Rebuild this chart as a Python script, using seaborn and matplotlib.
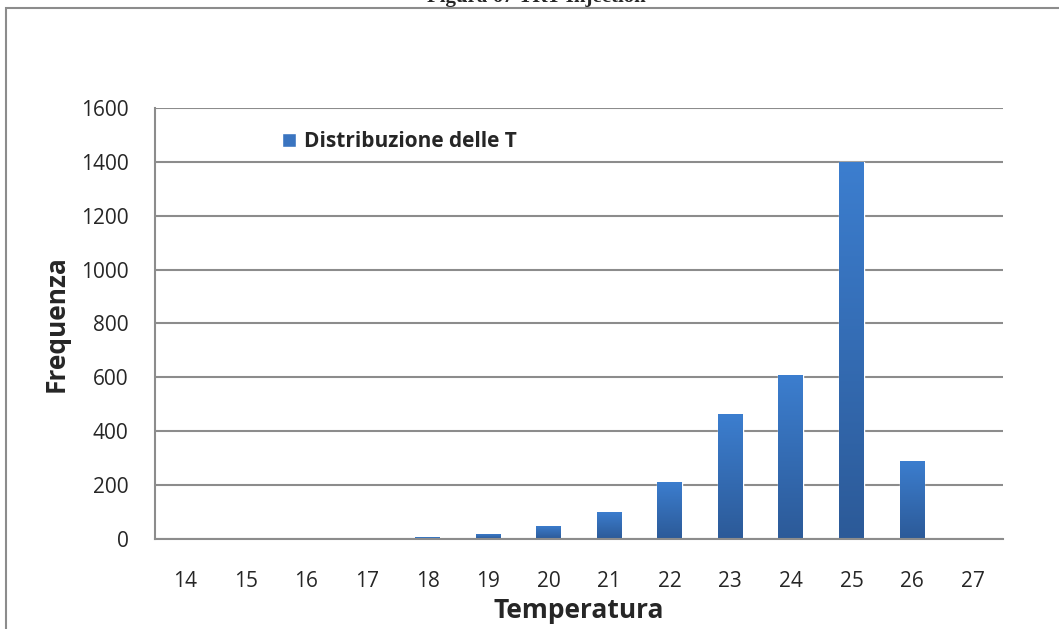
import matplotlib
matplotlib.use("Agg")
import matplotlib.pyplot as plt
import numpy as np
import pandas as pd
import seaborn as sns
from matplotlib.patches import Rectangle

temperature = [14, 15, 16, 17, 18, 19, 20, 21, 22, 23, 24, 25, 26, 27]
frequency = [0, 0, 1, 1, 6, 19, 49, 101, 212, 464, 609, 1400, 291, 0]
y_ticks = [0, 200, 400, 600, 800, 1000, 1200, 1400, 1600]
legend_label = "Distribuzione delle T"

df = pd.DataFrame({"Temperatura": [str(t) for t in temperature],
                   "Frequenza": frequency})

sns.set_style("white")
plt.rcParams["font.family"] = ["Open Sans", "DejaVu Sans"]

fig = plt.figure(figsize=(10.59, 6.29), dpi=100)
ax = fig.add_axes([0.1464, 0.1431, 0.8006, 0.6852])

grey = "#8c8c8c"
ax.set_axisbelow(True)
sns.barplot(data=df, x="Temperatura", y="Frequenza", color="#3a74c0",
            width=0.41, ax=ax, label=legend_label, saturation=1)

# gradient fill on the bars
grad = np.linspace(0, 1, 256).reshape(-1, 1)
cmap = matplotlib.colors.LinearSegmentedColormap.from_list(
    "bar", ["#2c5a98", "#3c7ecf"])
for p in ax.patches:
    h = p.get_height()
    if h <= 0:
        continue
    x0 = p.get_x()
    w = p.get_width()
    img = ax.imshow(grad, extent=[x0, x0 + w, 0, h], origin="lower",
                    cmap=cmap, aspect="auto", zorder=p.get_zorder() + 0.1)
    img.set_clip_path(p)

ax.set_xlim(-0.5, len(temperature) - 0.5)
ax.set_ylim(0, 1600)
ax.set_yticks(y_ticks)
ax.yaxis.grid(True, color=grey, linewidth=1.5)

# category boundary ticks on x
ax.set_xticks(np.arange(-0.5, len(temperature), 1.0))
ax.set_xticklabels([])
ax.set_xticks(np.arange(len(temperature)), minor=True)
ax.set_xticklabels([str(t) for t in temperature], minor=True)
ax.tick_params(axis="x", which="major", length=7, width=1.5, color=grey,
               direction="out")
ax.tick_params(axis="x", which="minor", length=0, labelsize=15, pad=23)
ax.tick_params(axis="y", length=7, width=1.5, color=grey, direction="out",
               labelsize=15, pad=12)

for s in ["top", "right"]:
    ax.spines[s].set_visible(False)
for s in ["left", "bottom"]:
    ax.spines[s].set_color(grey)
    ax.spines[s].set_linewidth(1.5)

ax.set_xlabel("Temperatura", fontsize=19, fontweight="bold", labelpad=4)
ax.set_ylabel("Frequenza", fontsize=19, fontweight="bold", labelpad=8)

leg = ax.legend(loc="upper left", bbox_to_anchor=(0.128, 0.99), frameon=False,
                handlelength=0.65, handleheight=0.65, handletextpad=0.4,
                prop={"weight": "bold", "size": 15})

# outer chart frame (cut off at right and bottom)
fig.patches.append(Rectangle((6 / 1059, -0.1), 1.2, 1 - 8 / 629 + 0.1,
                             transform=fig.transFigure, fill=False,
                             edgecolor=grey, linewidth=1.5))

fig.text(536 / 1059, 1 - 2 / 629, "Figura 67 TRT Injection",
         ha="center", va="baseline", fontsize=15, fontweight="bold",
         family="Liberation Serif")

fig.savefig("out.png", dpi=100)
